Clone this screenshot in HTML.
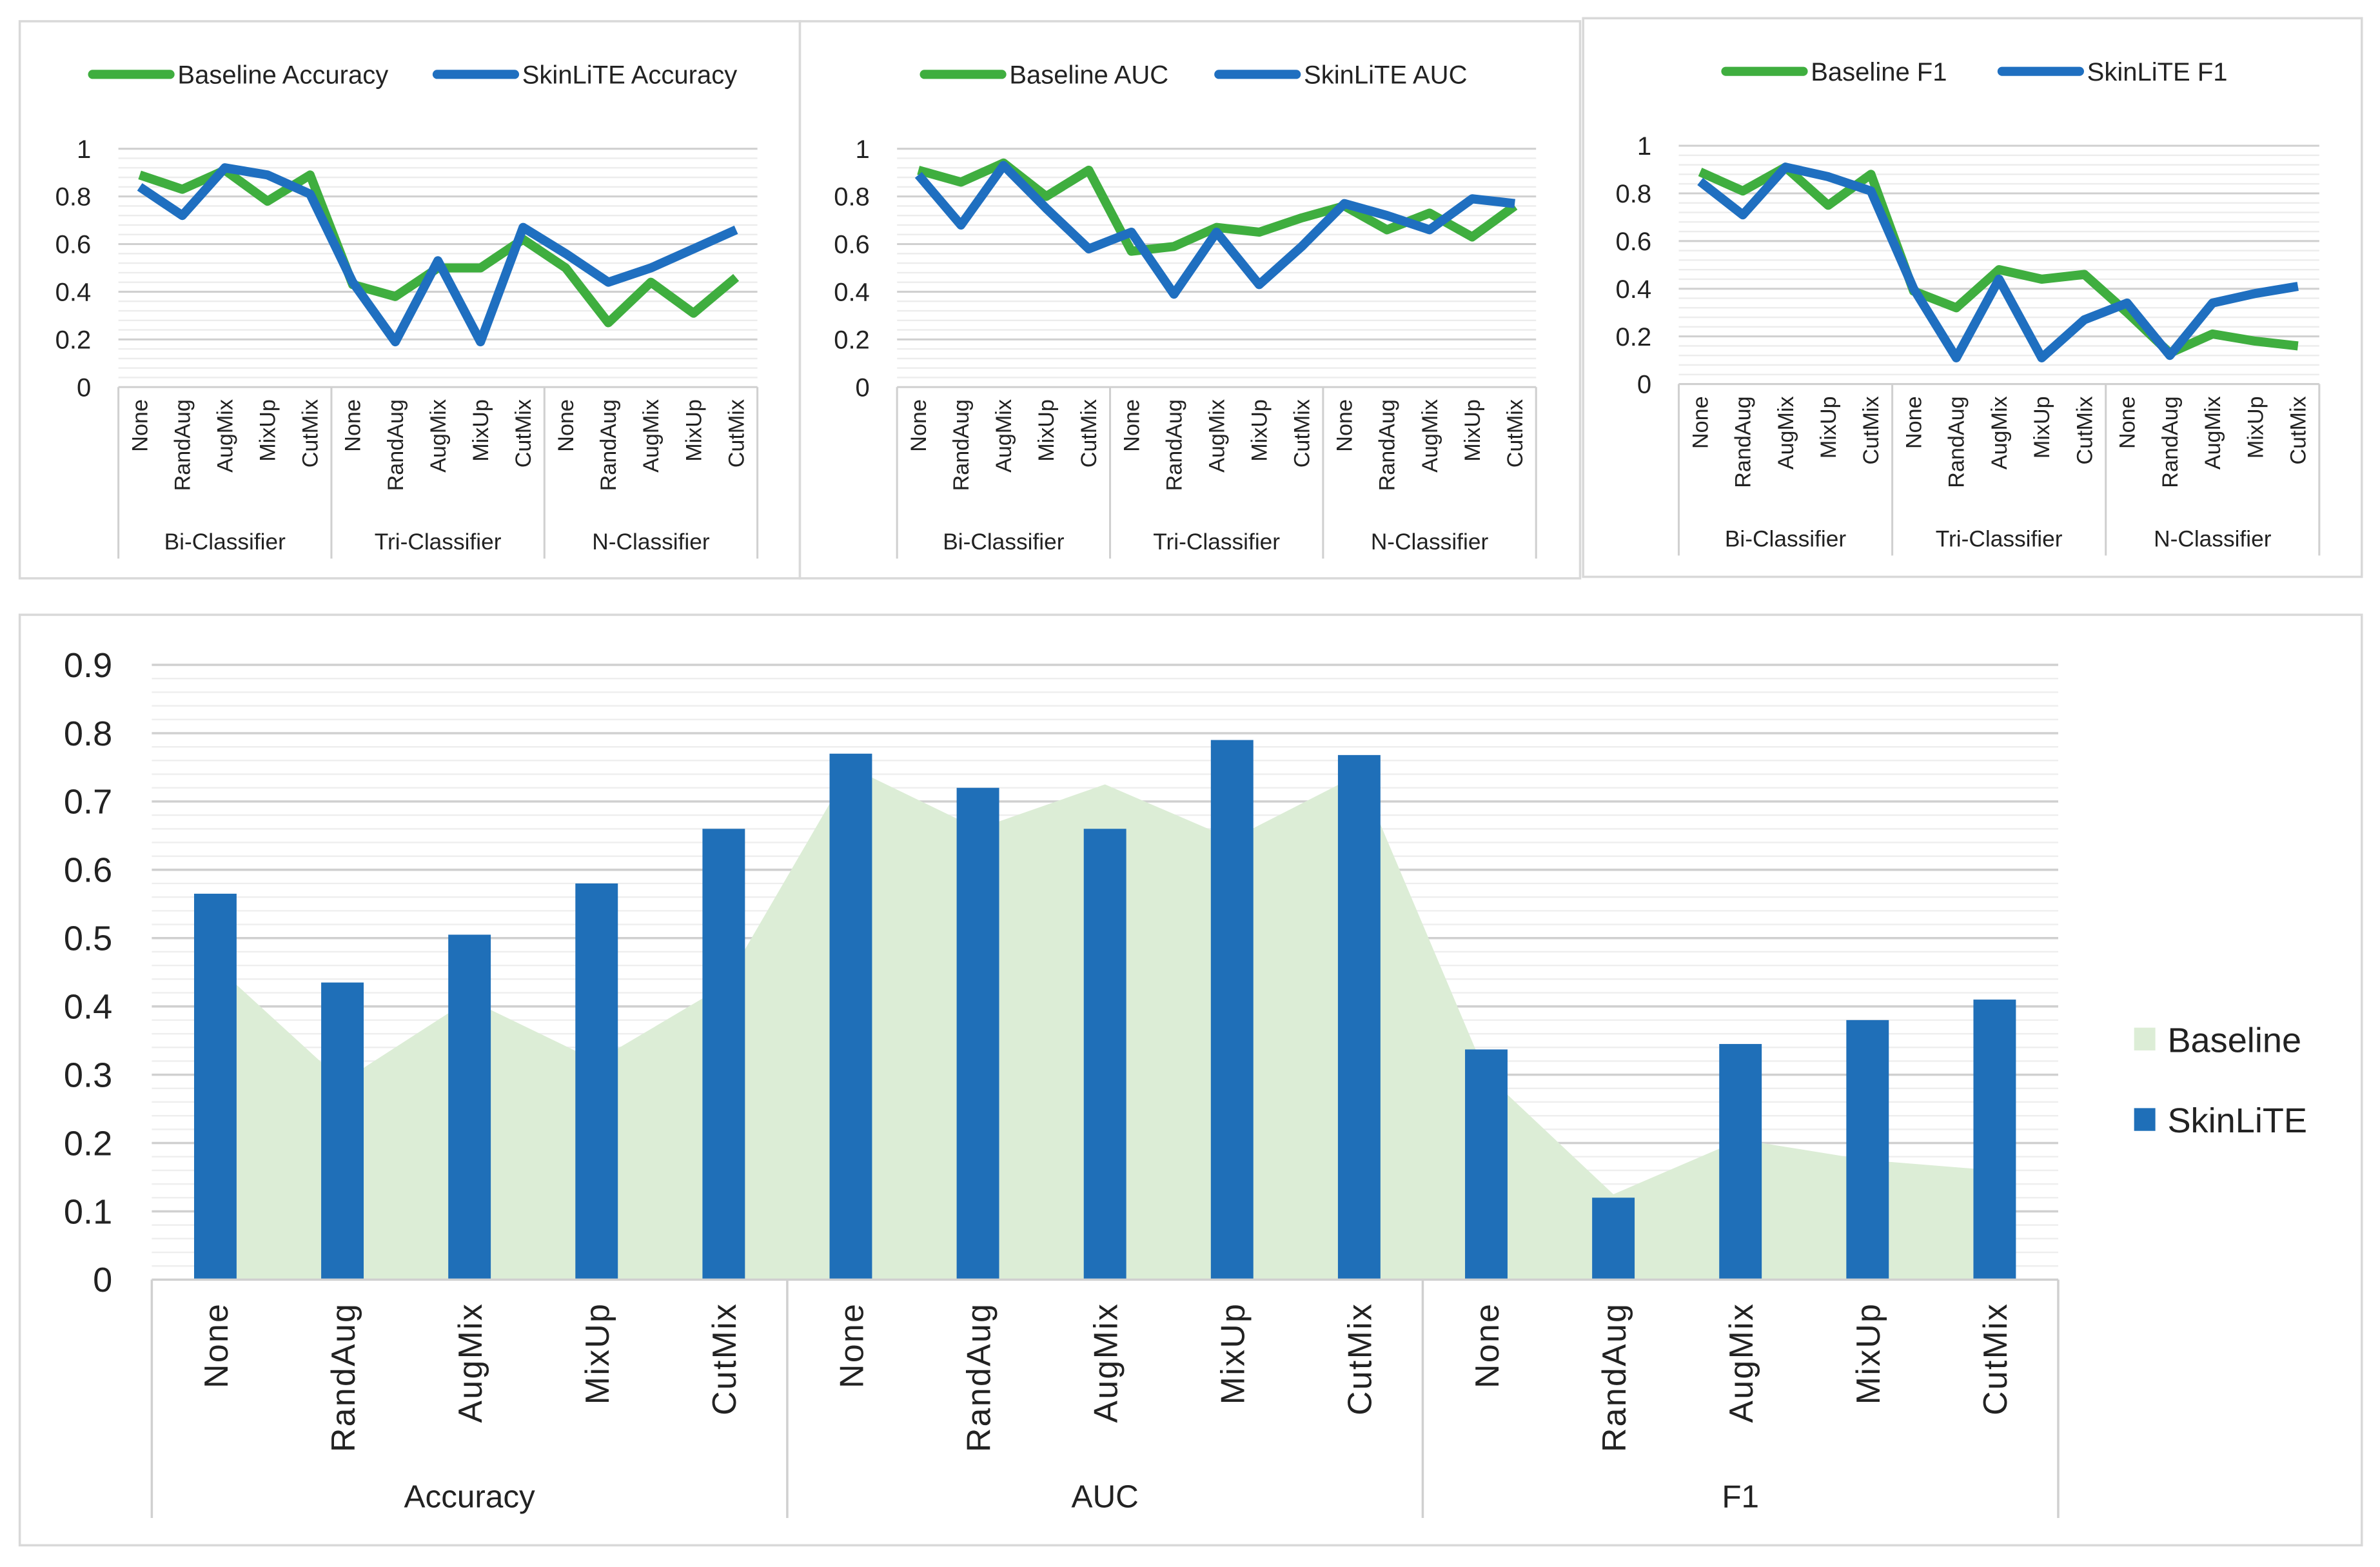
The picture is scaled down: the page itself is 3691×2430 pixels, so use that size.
<!DOCTYPE html>
<html><head><meta charset="utf-8">
<style>
html,body{margin:0;padding:0;background:#fff;}
svg{display:block;font-family:"Liberation Sans Narrow","Liberation Sans",sans-serif;}
</style></head>
<body>
<svg id="root" width="3691" height="2430" viewBox="0 0 1568 1032.3" preserveAspectRatio="none" xmlns="http://www.w3.org/2000/svg">
<rect x="0" y="0" width="1568" height="1033" fill="#fff"/>
<rect x="13" y="14" width="514" height="367" fill="#fff" stroke="#d9d9d9" stroke-width="1.5"/>
<rect x="527" y="14" width="514" height="367" fill="#fff" stroke="#d9d9d9" stroke-width="1.5"/>
<rect x="1043" y="12" width="513" height="368" fill="#fff" stroke="#d9d9d9" stroke-width="1.5"/>
<rect x="13" y="405" width="1543" height="613" fill="#fff" stroke="#d9d9d9" stroke-width="1.5"/>
<g id="charts"></g>
</svg>
<script>
const categories = ["None","RandAug","AugMix","MixUp","CutMix"];
const groups = ["Bi-Classifier","Tri-Classifier","N-Classifier"];
const topTicks = ["0","0.2","0.4","0.6","0.8","1"];
const accBaseline = [0.89,0.83,0.91,0.78,0.89, 0.43,0.38,0.50,0.50,0.62, 0.50,0.27,0.44,0.31,0.46];
const accSkin     = [0.84,0.72,0.92,0.89,0.81, 0.44,0.19,0.53,0.19,0.67, 0.56,0.44,0.50,0.58,0.66];
const aucBaseline = [0.91,0.86,0.94,0.80,0.91, 0.57,0.59,0.67,0.65,0.71, 0.76,0.66,0.73,0.63,0.76];
const aucSkin     = [0.89,0.68,0.93,0.75,0.58, 0.65,0.39,0.65,0.43,0.59, 0.77,0.72,0.66,0.79,0.77];
const f1Baseline  = [0.89,0.81,0.91,0.75,0.88, 0.39,0.32,0.48,0.44,0.46, 0.30,0.13,0.21,0.18,0.16];
const f1Skin      = [0.85,0.71,0.91,0.87,0.81, 0.40,0.11,0.44,0.11,0.27, 0.34,0.12,0.34,0.38,0.41];
const bottomGroups = ["Accuracy","AUC","F1"];
const bottomTicks = ["0","0.1","0.2","0.3","0.4","0.5","0.6","0.7","0.8","0.9"];
const bottomBaseline = [0.46,0.29,0.41,0.32,0.43, 0.75,0.66,0.725,0.645,0.74, 0.30,0.125,0.205,0.175,0.16];
const bottomSkin     = [0.565,0.435,0.505,0.58,0.66, 0.77,0.72,0.66,0.79,0.768, 0.337,0.12,0.345,0.38,0.41];

const NS="http://www.w3.org/2000/svg";
const root=document.getElementById('charts');
function mk(tag,attrs,parent){const e=document.createElementNS(NS,tag);for(const k in attrs)e.setAttribute(k,attrs[k]);(parent||root).appendChild(e);return e;}
const GREEN="#3fae3f", BLUE="#1f6fc0";

function linePanel(p){
  const g=mk('g',{});
  
  
  const n=15, cw=(p.x1-p.x0)/n;
  const X=i=>p.x0+cw*(i+0.5);
  const Y=v=>p.y0-(p.y0-p.y1)*v;
  for(let k=1;k<=25;k++){const v=k*0.04;if(Math.abs(v*5-Math.round(v*5))<1e-6)continue;
    const l=mk('line',{x1:p.x0,x2:p.x1,y1:Y(v),y2:Y(v),stroke:"#ececec","stroke-width":1},g);
    
    }
  topTicks.forEach((t,i)=>{const v=i*0.2;
    if(i>0){const l=mk('line',{x1:p.x0,x2:p.x1,y1:Y(v),y2:Y(v),stroke:"#d0d0d0","stroke-width":1.3},g);
    
    }
    const tx=mk('text',{x:p.x0-18,y:Y(v)+6,"font-size":17,"text-anchor":"end",fill:"#222"},g);tx.textContent=t;
    
    });
  const ax=mk('line',{x1:p.x0,x2:p.x1,y1:p.y0,y2:p.y0,stroke:"#d0d0d0","stroke-width":1.3},g);
  
  
  for(let j=0;j<=3;j++){const x=p.x0+cw*5*j;
    const d=mk('line',{x1:x,x2:x,y1:p.y0,y2:p.y0+113,stroke:"#d0d0d0","stroke-width":1.3},g);
    
    }
  for(let i=0;i<n;i++){const x=X(i)+5,y=p.y0+8;
    const t=mk('text',{x:x,y:y,"font-size":14.5,"text-anchor":"end",fill:"#222",transform:`rotate(-90 ${x} ${y})`},g);
    t.textContent=categories[i%5];
    
    }
  groups.forEach((gr,j)=>{const t=mk('text',{x:p.x0+cw*(5*j+2.5),y:p.y0+107,"font-size":15,"text-anchor":"middle",fill:"#222"},g);t.textContent=gr;
    
    });
  [[p.base,GREEN,'baseline-line'],[p.skin,BLUE,'skinlite-line']].forEach(([arr,c,nm])=>{
    const pl=mk('polyline',{points:arr.map((v,i)=>X(i)+','+Y(v)).join(' '),fill:"none",stroke:c,"stroke-width":6,"stroke-linejoin":"round"},g);
    
    });
  const L=p.legend;
  [[L[0],GREEN,p.labels[0]],[L[1],BLUE,p.labels[1]]].forEach(([lx,c,lab])=>{
    const ln=mk('line',{x1:lx,x2:lx+51,y1:L[2],y2:L[2],stroke:c,"stroke-width":6,"stroke-linecap":"round"},g);
    
    
    const t=mk('text',{x:lx+56,y:L[2]+6,"font-size":17,fill:"#222"},g);t.textContent=lab;
    
    });
}
linePanel({name:'accuracy-line-chart',x0:78,x1:499,y0:255,y1:98,base:accBaseline,skin:accSkin,legend:[61,288,49],labels:["Baseline Accuracy","SkinLiTE Accuracy"]});
linePanel({name:'auc-line-chart',x0:591,x1:1012,y0:255,y1:98,base:aucBaseline,skin:aucSkin,legend:[609,803,49],labels:["Baseline AUC","SkinLiTE AUC"]});
linePanel({name:'f1-line-chart',x0:1106,x1:1528,y0:253,y1:96,base:f1Baseline,skin:f1Skin,legend:[1137,1319,47],labels:["Baseline F1","SkinLiTE F1"]});

(function(){
  const x0=100,x1=1356,y0=843,y9=438,n=15,cw=(x1-x0)/n;
  const g=mk('g',{});
  
  
  const X=i=>x0+cw*(i+0.5);
  const Y=v=>y0-(y0-y9)/0.9*v;
  for(let k=1;k<=45;k++){const v=k*0.02;if(k%5===0)continue;
    const l=mk('line',{x1:x0,x2:x1,y1:Y(v),y2:Y(v),stroke:"#eeeeee","stroke-width":1},g);
    
    }
  bottomTicks.forEach((t,i)=>{const v=i*0.1;
    if(i>0){const l=mk('line',{x1:x0,x2:x1,y1:Y(v),y2:Y(v),stroke:"#d0d0d0","stroke-width":1.5},g);
    
    }
    const tx=mk('text',{x:74,y:Y(v)+8,"font-size":23,"text-anchor":"end",fill:"#222"},g);tx.textContent=t;
    
    });
  let pts=X(0)+','+y0+' '+bottomBaseline.map((v,i)=>X(i)+','+Y(v)).join(' ')+' '+X(n-1)+','+y0;
  const ar=mk('polygon',{points:pts,fill:"#dcedd6"},g);
  
  
  bottomSkin.forEach((v,i)=>{const r=mk('rect',{x:X(i)-14,y:Y(v),width:28,height:y0-Y(v),fill:"#1f6fb8"},g);
    
    });
  const ax=mk('line',{x1:x0,x2:x1,y1:y0,y2:y0,stroke:"#d0d0d0","stroke-width":1.5},g);
  
  
  for(let j=0;j<=3;j++){const x=x0+cw*5*j;
    const d=mk('line',{x1:x,x2:x,y1:y0,y2:1000,stroke:"#d0d0d0","stroke-width":1.5},g);
    
    }
  for(let i=0;i<n;i++){const x=X(i)+8,y=y0+15;
    const t=mk('text',{x:x,y:y,"font-size":22,"text-anchor":"end",fill:"#222","letter-spacing":"1",transform:`rotate(-90 ${x} ${y})`},g);
    t.textContent=categories[i%5];
    
    }
  bottomGroups.forEach((gr,j)=>{const t=mk('text',{x:x0+cw*(5*j+2.5),y:993,"font-size":21,"text-anchor":"middle",fill:"#222"},g);t.textContent=gr;
    
    });
  const s1=mk('rect',{x:1406,y:677,width:14,height:15,fill:"#dcedd6"},g);
  
  
  const t1=mk('text',{x:1428,y:693,"font-size":23,fill:"#222"},g);t1.textContent="Baseline";
  
  
  const s2=mk('rect',{x:1406,y:730,width:14,height:15,fill:"#1f6fb8"},g);
  
  
  const t2=mk('text',{x:1428,y:746,"font-size":23,fill:"#222"},g);t2.textContent="SkinLiTE";
  
  
})();
</script>
</body></html>
